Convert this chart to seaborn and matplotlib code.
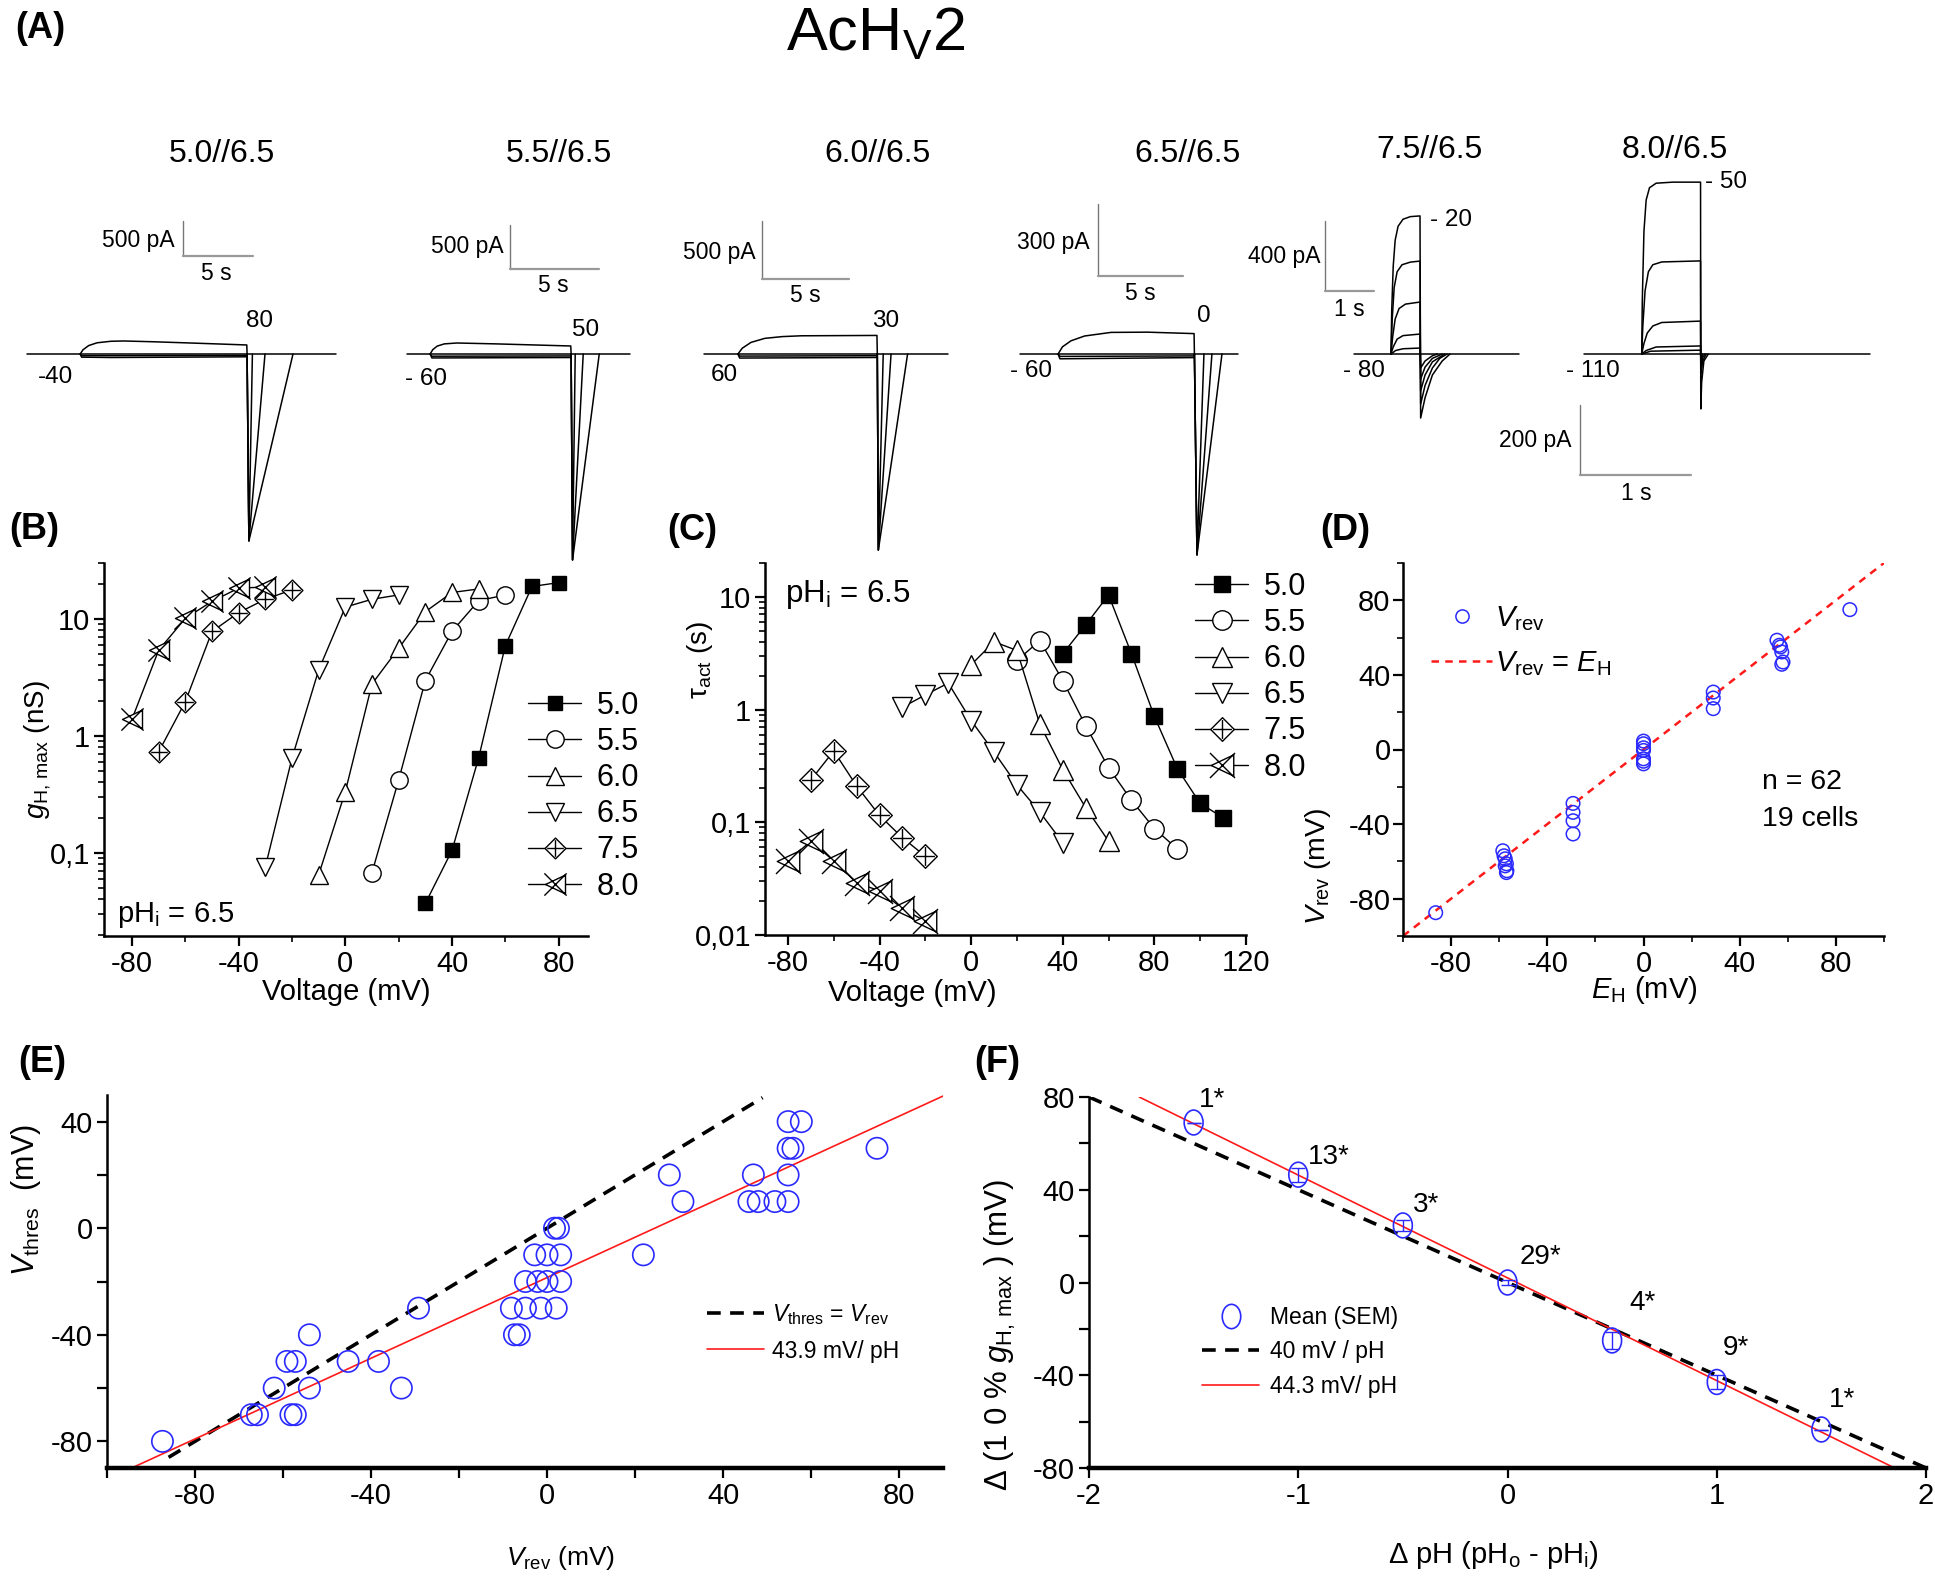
import numpy as np
import pandas as pd
import matplotlib
matplotlib.use("Agg")
import matplotlib.pyplot as plt
import seaborn as sns
from matplotlib.path import Path
from matplotlib.lines import Line2D
from matplotlib.ticker import (FixedLocator, FixedFormatter, MultipleLocator,
                               NullFormatter, LogLocator)

# ====================== DATA ======================
# ---- Panel A: current traces (time in s, current in pA) ----
A_titles = ["5.0//6.5", "5.5//6.5", "6.0//6.5", "6.5//6.5", "7.5//6.5", "8.0//6.5"]
A_hold = ["-40", "- 60", "60", "- 60", "- 80", "- 110"]
A_step = ["80", "50", "30", "0", "- 20", "- 50"]
A_bar_time = [5, 5, 5, 5, 1, 1]
A_bar_curr = [500, 500, 500, 300, 400, 200]
A_bar_time_lbl = ["5 s", "5 s", "5 s", "5 s", "1 s", "1 s"]
A_bar_curr_lbl = ["500 pA", "500 pA", "500 pA", "300 pA", "400 pA", "200 pA"]

A1_t = [[0, 22.1],
        [3.8, 4.0, 4.4, 5.0, 6.0, 6.9, 9.0, 12.0, 15.7, 15.72],
        [3.8, 3.9, 6.0, 15.7, 15.72],
        [3.8, 3.9, 15.7, 15.72],
        [15.72, 15.85, 16.1],
        [15.72, 15.85, 17.0],
        [15.72, 15.85, 19.0]]
A1_I = [[0, 0],
        [0, 60, 120, 160, 182, 186, 175, 155, 129, 0],
        [0, -45, -50, -40, 0],
        [0, -25, -20, 0],
        [0, -2670, 0],
        [0, -2670, 0],
        [0, -2670, 0]]

A2_t = [[0, 12.5],
        [1.3, 1.45, 1.7, 2.1, 2.8, 5.0, 9.2, 9.22],
        [1.3, 1.4, 9.2, 9.22],
        [1.3, 1.4, 9.2, 9.22],
        [9.22, 9.3, 9.45],
        [9.22, 9.3, 9.9],
        [9.22, 9.3, 10.8]]
A2_I = [[0, 0],
        [0, 50, 90, 115, 125, 115, 91, 0],
        [0, -45, -40, 0],
        [0, -25, -22, 0],
        [0, -2340, 0],
        [0, -2340, 0],
        [0, -2340, 0]]

A3_t = [[0, 14.0],
        [1.95, 2.2, 2.7, 3.5, 4.5, 5.6, 9.94, 9.96],
        [1.95, 2.05, 9.94, 9.96],
        [1.95, 2.05, 9.94, 9.96],
        [9.96, 10.02, 10.3],
        [9.96, 10.02, 10.75],
        [9.96, 10.02, 11.7]]
A3_I = [[0, 0],
        [0, 50, 100, 135, 150, 157, 160, 0],
        [0, -35, -30, 0],
        [0, -18, -15, 0],
        [0, -1690, 0],
        [0, -1690, 0],
        [0, -1690, 0]]

A4_t = [[0, 12.8],
        [2.24, 2.5, 3.0, 3.8, 5.35, 7.5, 10.24, 10.26],
        [2.24, 2.35, 10.24, 10.26],
        [2.24, 2.35, 10.24, 10.26],
        [10.26, 10.41, 10.82],
        [10.26, 10.41, 11.29],
        [10.26, 10.41, 11.88]]
A4_I = [[0, 0],
        [0, 30, 55, 75, 90, 91, 85, 0],
        [0, -20, -15, 0],
        [0, -10, -8, 0],
        [0, -837, 0],
        [0, -837, 0],
        [0, -837, 0]]

A5_t = [[0, 3.37],
        [0.755, 0.77, 0.80, 0.84, 0.90, 1.0, 1.15, 1.347, 1.36, 1.45, 1.6, 1.8, 1.96],
        [0.755, 0.78, 0.82, 0.88, 0.98, 1.15, 1.347, 1.36, 1.45, 1.6, 1.75, 1.9],
        [0.755, 0.79, 0.84, 0.92, 1.05, 1.347, 1.36, 1.45, 1.6, 1.85],
        [0.755, 0.80, 0.88, 1.0, 1.347, 1.36, 1.45, 1.6, 1.8],
        [0.755, 0.85, 1.0, 1.347, 1.36, 1.45, 1.6, 1.7]]
A5_I = [[0, 0],
        [0, 250, 500, 650, 730, 770, 785, 789, -366, -250, -120, -40, 0],
        [0, 200, 380, 470, 510, 525, 531, -286, -180, -80, -25, 0],
        [0, 100, 200, 260, 285, 297, -211, -120, -45, 0],
        [0, 40, 85, 105, 114, -143, -75, -25, 0],
        [0, 20, 30, 34, -80, -40, -10, 0]]

A6_t = [[0, 2.58],
        [0.52, 0.525, 0.54, 0.56, 0.59, 0.65, 0.8, 1.05, 1.052, 1.06, 1.08, 1.12],
        [0.52, 0.53, 0.55, 0.58, 0.62, 0.7, 1.05, 1.052, 1.07, 1.1],
        [0.52, 0.54, 0.57, 0.62, 0.7, 1.05, 1.052, 1.07, 1.09],
        [0.52, 0.56, 0.65, 1.05, 1.052, 1.07],
        [0.52, 0.6, 1.05, 1.052, 1.065]]
A6_I = [[0, 0],
        [0, 150, 350, 440, 475, 488, 491, 491, -157, -80, -20, 0],
        [0, 80, 180, 235, 255, 263, 266, -60, -20, 0],
        [0, 30, 60, 80, 90, 94, -35, -10, 0],
        [0, 10, 20, 23, -20, 0],
        [0, 8, 11, -10, 0]]

# ---- Panel B: g_H,max (nS) vs voltage (mV) ----
B_labels = ["5.0", "5.5", "6.0", "6.5", "7.5", "8.0"]
B_V_50 = [30, 40, 50, 60, 70, 80]
B_g_50 = [0.037, 0.105, 0.65, 5.9, 18.9, 20.4]
B_V_55 = [10, 20, 30, 40, 50, 60]
B_g_55 = [0.068, 0.42, 2.97, 7.8, 14.3, 16.0]
B_V_60 = [-10, 0, 10, 20, 30, 40, 50]
B_g_60 = [0.065, 0.334, 2.78, 5.6, 11.5, 16.8, 18.0]
B_V_65 = [-30, -20, -10, 0, 10, 20]
B_g_65 = [0.076, 0.645, 3.66, 12.6, 14.7, 16.0]
B_V_75 = [-70, -60, -50, -40, -30, -20]
B_g_75 = [0.73, 1.96, 7.8, 11.3, 14.7, 17.7]
B_V_80 = [-80, -70, -60, -50, -40, -30]
B_g_80 = [1.39, 5.4, 10.1, 14.1, 18.3, 18.7]

# ---- Panel C: tau_act (s) vs voltage (mV) ----
C_V_50 = [40, 50, 60, 70, 80, 90, 100, 110]
C_t_50 = [3.13, 5.65, 10.4, 3.13, 0.87, 0.30, 0.147, 0.110]
C_V_55 = [20, 30, 40, 50, 60, 70, 80, 90]
C_t_55 = [2.73, 4.1, 1.81, 0.72, 0.305, 0.157, 0.088, 0.058]
C_V_60 = [0, 10, 20, 30, 40, 50, 60]
C_t_60 = [2.5, 4.0, 3.35, 0.74, 0.294, 0.135, 0.068]
C_V_65 = [-30, -20, -10, 0, 10, 20, 30, 40]
C_t_65 = [1.05, 1.35, 1.72, 0.80, 0.42, 0.215, 0.123, 0.066]
C_V_75 = [-70, -60, -50, -40, -30, -20]
C_t_75 = [0.237, 0.43, 0.21, 0.115, 0.073, 0.050]
C_V_80 = [-80, -70, -60, -50, -40, -30, -20]
C_t_80 = [0.0455, 0.068, 0.0455, 0.029, 0.0247, 0.0172, 0.0132]

# ---- Panel D: V_rev vs E_H (mV) ----
D_EH = [-86.4, -58.5, -58.0, -57.5, -57.0, -57.5, -56.8, -57.0,
        -29.3, -29.3, -29.3, -29.3,
        0, 0, 0, 0, 0, 0, 0,
        29, 29, 29,
        55.5, 56.5, 57.0, 57.5, 58.0, 57.5,
        85.8]
D_Vrev = [-87.5, -54.3, -57.0, -58.6, -61.3, -62.4, -65.0, -66.0,
          -28.9, -33.7, -38.2, -45.3,
          4.5, 3.1, 0.9, -0.5, -5.0, -6.3, -7.7,
          30.8, 27.6, 21.9,
          58.6, 55.9, 55.0, 52.3, 46.9, 45.7,
          75.0]
D_line = [-100, 100]

# ---- Panel E: V_thres vs V_rev (mV) ----
E_Vrev = [-87.4, -67.2, -65.8, -58.2, -57.2, -62.0, -54.0, -59.1, -57.2,
          -54.0, -45.2, -38.3, -33.1, -29.2, -7.4, -6.3,
          -8.1, -4.9, -1.4, 2.1, -4.9, -2.1, 0.0, 3.1,
          -2.8, 0.0, 3.1, 1.7, 2.6, 21.9, 27.8, 30.9,
          45.9, 48.0, 51.8, 54.8, 46.9, 54.8, 54.8, 55.9, 54.8, 57.8, 75.0]
E_Vthres = [-80, -70, -70, -70, -70, -60, -60, -50, -50,
            -40, -50, -50, -60, -30, -40, -40,
            -30, -30, -30, -30, -20, -20, -20, -20,
            -10, -10, -10, 0, 0, -10, 20, 10,
            10, 10, 10, 10, 20, 20, 30, 30, 40, 40, 30]
E_id_x = [-86, 49]
E_id_y = [-86, 49]
E_fit_x = [-94, 90]
E_fit_y = [-89.7, 49.6]

# ---- Panel F: shift of 10% g_H,max vs delta pH ----
F_dpH = [-1.5, -1.0, -0.5, 0.0, 0.5, 1.0, 1.5]
F_mean = [69.0, 46.5, 24.6, 0.0, -25.0, -42.9, -63.4]
F_sem = [0.0, 3.0, 2.5, 1.0, 3.5, 3.0, 0.0]
F_n = ["1*", "13*", "3*", "29*", "4*", "9*", "1*"]
F_ref_x = [-2, 2]
F_ref_y = [80, -80]
F_fit_x = [-1.76, 1.85]
F_fit_y = [80, -80]

# ====================== STYLE ======================
sns.set_theme(style="ticks")
plt.rcParams['font.family'] = ['Liberation Sans', 'DejaVu Sans']
plt.rcParams['mathtext.fontset'] = 'custom'
plt.rcParams['mathtext.rm'] = 'Liberation Sans'
plt.rcParams['mathtext.it'] = 'Liberation Sans:italic'
plt.rcParams['mathtext.bf'] = 'Liberation Sans:bold'
plt.rcParams['axes.unicode_minus'] = False
for k in ['text.color', 'axes.labelcolor', 'xtick.color', 'ytick.color', 'axes.edgecolor']:
    plt.rcParams[k] = 'black'

W, H = 1935, 1582
fig = plt.figure(figsize=(W / 100, H / 100), dpi=100)
fig.patch.set_facecolor('white')

TICK_FS = 21
BLUE = '#2a2aff'
RED = '#ff1a1a'


def px_axes(l, t, r, b):
    ax = fig.add_axes([l / W, 1 - b / H, (r - l) / W, (b - t) / H])
    ax._pxbox = (l, t, r, b)
    return ax


def ftext(x, y, s, **kw):
    return fig.text(x / W, 1 - y / H, s, **kw)


def style_axes(ax, bottom_lw=1.8):
    sns.despine(ax=ax)
    ax.spines['left'].set_linewidth(1.8)
    ax.spines['bottom'].set_linewidth(bottom_lw)
    ax.tick_params(which='major', direction='out', length=7, width=1.6,
                   labelsize=TICK_FS, pad=3)
    ax.tick_params(which='minor', direction='out', length=4, width=1.2)
    ax.set_facecolor('none')


def place_label(ax, axis, text, px, py, fs, **kw):
    l, t, r, b = ax._pxbox
    xa = (px - l) / (r - l)
    ya = (b - py) / (b - t)
    if axis == 'x':
        ax.set_xlabel(text, fontsize=fs, **kw)
        ax.xaxis.set_label_coords(xa, ya)
        ax.xaxis.label.set_va('center')
    else:
        ax.set_ylabel(text, fontsize=fs, **kw)
        ax.yaxis.set_label_coords(xa, ya)
        ax.yaxis.label.set_va('center')
        ax.yaxis.label.set_ha('center')


def legend_px(ax, handles, labels, left, top, **kw):
    return ax.legend(handles, labels, loc='upper left',
                     bbox_to_anchor=(left / W, 1 - top / H),
                     bbox_transform=fig.transFigure, frameon=False,
                     borderpad=0, borderaxespad=0, **kw)


# custom markers
diamond_plus = Path([(0, 1), (1, 0), (0, -1), (-1, 0), (0, 1),
                     (0, 0.8), (0, -0.8), (-0.8, 0), (0.8, 0)],
                    [Path.MOVETO, Path.LINETO, Path.LINETO, Path.LINETO, Path.CLOSEPOLY,
                     Path.MOVETO, Path.LINETO, Path.MOVETO, Path.LINETO])
x_tri = Path([(-0.9, 0), (0.9, 0.85), (0.9, -0.85), (-0.9, 0),
              (-1, -1), (1, 1), (-1, 1), (1, -1)],
             [Path.MOVETO, Path.LINETO, Path.LINETO, Path.CLOSEPOLY,
              Path.MOVETO, Path.LINETO, Path.MOVETO, Path.LINETO])
_circ = Path.unit_circle()
tall_ellipse = Path(_circ.vertices * np.array([0.76, 1.0]), _circ.codes)

# ====================== PANEL A ======================
A_layout = [(27, 354, 14.0, 0.070), (407, 354, 17.8, 0.088), (704, 354, 17.4, 0.116),
            (1020, 354, 17.0, 0.24), (1354, 354, 49.0, 0.175), (1584, 354, 111.0, 0.35)]
A_t_all = [A1_t, A2_t, A3_t, A4_t, A5_t, A6_t]
A_I_all = [A1_I, A2_I, A3_I, A4_I, A5_I, A6_I]
A_bar_px = [(183, 256), (510, 269), (762, 279), (1098, 276), (1325, 291), (1580, 475)]
A_title_px = [(222, 162), (559, 162), (877, 162), (1187, 162), (1429, 158), (1675, 158)]
A_curr_lbl_px = [(138, 241), (467, 246), (719, 252), (1053, 243), (1284, 257), (1535, 441)]
A_time_lbl_px = [(216, 274), (553, 286), (805, 296), (1140, 294), (1349, 309), (1636, 493)]
A_hold_px = [(55, 377), (426, 379), (724, 375), (1031, 371), (1364, 371), (1593, 371)]
A_step_px = [(259, 321), (586, 330), (886, 321), (1204, 316), (1451, 220), (1726, 182)]

for k, (x0, y0, pps, ppa) in enumerate(A_layout):
    l, r, t, b = x0 - 80, x0 + 330, 120, 600
    ax = px_axes(l, t, r, b)
    ax.set_facecolor('none')
    for tt, ii in zip(A_t_all[k], A_I_all[k]):
        sns.lineplot(x=tt, y=ii, ax=ax, color='black', lw=1.1, sort=False,
                     estimator=None)
    bt = (A_bar_px[k][0] - x0) / pps
    bi = (y0 - A_bar_px[k][1]) / ppa
    sns.lineplot(x=[bt, bt], y=[bi, bi + A_bar_curr[k]], ax=ax, color='#777777',
                 lw=1.0, sort=False, estimator=None)
    sns.lineplot(x=[bt, bt + A_bar_time[k]], y=[bi, bi], ax=ax, color='#999999',
                 lw=1.6, sort=False, estimator=None)
    ax.set_xlim((l - x0) / pps, (r - x0) / pps)
    ax.set_ylim((y0 - b) / ppa, (y0 - t) / ppa)
    ax.axis('off')
    ftext(*A_title_px[k], A_titles[k], fontsize=23, ha='center', va='baseline')
    ftext(*A_curr_lbl_px[k], A_bar_curr_lbl[k], fontsize=16.5, ha='center', va='center')
    ftext(*A_time_lbl_px[k], A_bar_time_lbl[k], fontsize=16.5, ha='center', va='center')
    ftext(*A_hold_px[k], A_hold[k], fontsize=17.5, ha='center', va='center')
    ftext(*A_step_px[k], A_step[k], fontsize=17.5, ha='center', va='center')

ftext(876, 50, r"AcH$_\mathregular{V}$2", fontsize=44, ha='center', va='baseline')

# panel letters
for lbl, (x, y) in zip(["(A)", "(B)", "(C)", "(D)", "(E)", "(F)"],
                       [(40, 29), (34, 530), (692, 531), (1345, 531), (42, 1063), (997, 1063)]):
    ftext(x, y, lbl, fontsize=26, fontweight='bold', ha='center', va='center')

# ====================== PANEL B ======================
axB = px_axes(104, 563, 588, 936)
B_series = [(B_V_50, B_g_50), (B_V_55, B_g_55), (B_V_60, B_g_60),
            (B_V_65, B_g_65), (B_V_75, B_g_75), (B_V_80, B_g_80)]
marker_styles = [dict(marker='s', mfc='black'), dict(marker='o', mfc='white'),
                 dict(marker='^', mfc='white'), dict(marker='v', mfc='white'),
                 dict(marker=diamond_plus, mfc='white'), dict(marker=x_tri, mfc='white')]
B_ms = [10.5, 12.5, 13.5, 13.5, 15, 16]
for (v, g), st, ms in zip(B_series, marker_styles, B_ms):
    sns.lineplot(x=v, y=g, ax=axB, color='black', lw=1.0, mec='black', mew=1.0,
                 ms=ms, sort=False, estimator=None, **st)
axB.set_yscale('log')
axB.set_xlim(-90.5, 91)
axB.set_ylim(0.0195, 30)
axB.yaxis.set_major_locator(FixedLocator([0.1, 1, 10]))
axB.yaxis.set_major_formatter(FixedFormatter(['0,1', '1', '10']))
axB.yaxis.set_minor_locator(LogLocator(base=10, subs=np.arange(2, 10)))
axB.yaxis.set_minor_formatter(NullFormatter())
axB.xaxis.set_major_locator(FixedLocator([-80, -40, 0, 40, 80]))
axB.xaxis.set_minor_locator(MultipleLocator(20))
style_axes(axB)
place_label(axB, 'x', 'Voltage (mV)', 346, 992, 21)
place_label(axB, 'y', r"$g_\mathregular{H,\,max}$ (nS)", 38, 750, 20)
ftext(117, 922, r"pH$_\mathregular{i}$ = 6.5", fontsize=21, ha='left', va='baseline')
hB = [Line2D([], [], color='black', lw=1.0, mec='black', mew=1.0, ms=ms, **st)
      for st, ms in zip(marker_styles, B_ms)]
legend_px(axB, hB, B_labels, 528, 691, fontsize=22, handlelength=1.75,
          handletextpad=0.5, labelspacing=0.2, numpoints=1)

# ====================== PANEL C ======================
axC = px_axes(765, 563, 1246, 935)
C_series = [(C_V_50, C_t_50), (C_V_55, C_t_55), (C_V_60, C_t_60),
            (C_V_65, C_t_65), (C_V_75, C_t_75), (C_V_80, C_t_80)]
C_ms = [12, 14, 15, 15, 17, 18]
for (v, tau), st, ms in zip(C_series, marker_styles, C_ms):
    sns.lineplot(x=v, y=tau, ax=axC, color='black', lw=1.0, mec='black', mew=1.0,
                 ms=ms, sort=False, estimator=None, **st)
axC.set_yscale('log')
axC.set_xlim(-90, 120)
axC.set_ylim(0.01, 20)
axC.yaxis.set_major_locator(FixedLocator([0.01, 0.1, 1, 10]))
axC.yaxis.set_major_formatter(FixedFormatter(['0,01', '0,1', '1', '10']))
axC.yaxis.set_minor_locator(LogLocator(base=10, subs=np.arange(2, 10)))
axC.yaxis.set_minor_formatter(NullFormatter())
axC.xaxis.set_major_locator(FixedLocator([-80, -40, 0, 40, 80, 120]))
axC.xaxis.set_minor_locator(MultipleLocator(20))
style_axes(axC)
place_label(axC, 'x', 'Voltage (mV)', 912, 993, 21)
place_label(axC, 'y', "τ$_\\mathregular{act}$ (s)", 700, 660, 20)
ftext(785, 602, r"pH$_\mathregular{i}$ = 6.5", fontsize=22.5, ha='left', va='baseline')
hC = [Line2D([], [], color='black', lw=1.0, mec='black', mew=1.0, ms=ms, **st)
      for st, ms in zip(marker_styles, C_ms)]
legend_px(axC, hC, B_labels, 1195, 572, fontsize=22, handlelength=1.75,
          handletextpad=0.5, labelspacing=0.2, numpoints=1)

# ====================== PANEL D ======================
axD = px_axes(1403, 563, 1884, 936)
sns.lineplot(x=D_line, y=D_line, ax=axD, color=RED, lw=1.8, sort=False,
             estimator=None)
axD.lines[-1].set_dashes((3, 2.5))
sns.scatterplot(x=D_EH, y=D_Vrev, ax=axD, marker='o', s=95, facecolors='none',
                edgecolor=BLUE, linewidth=1.1, zorder=3)
axD.set_xlim(-100, 100)
axD.set_ylim(-100, 100)
axD.xaxis.set_major_locator(FixedLocator([-80, -40, 0, 40, 80]))
axD.yaxis.set_major_locator(FixedLocator([-80, -40, 0, 40, 80]))
axD.xaxis.set_minor_locator(MultipleLocator(20))
axD.yaxis.set_minor_locator(MultipleLocator(20))
style_axes(axD)
axD.tick_params(axis='y', pad=2)
place_label(axD, 'x', r"$E_\mathregular{H}$ (mV)", 1644, 990, 21)
place_label(axD, 'y', r"$V_\mathregular{rev}$ (mV)", 1318, 866, 20.5)
hD = [Line2D([], [], ls='none', marker='o', ms=9.5, mfc='none', mec=BLUE, mew=1.1),
      Line2D([], [], color=RED, lw=1.8, dashes=(3, 2.5))]
legend_px(axD, hD, [r"$V_\mathregular{rev}$", r"$V_\mathregular{rev}$ = $E_\mathregular{H}$"],
          1431, 604, fontsize=21, handlelength=2.1, handletextpad=0.1,
          labelspacing=0.55, numpoints=1)
ftext(1762, 782, "n = 62", fontsize=20.5, ha='left', va='center')
ftext(1762, 819, "19 cells", fontsize=20.5, ha='left', va='center')

# ====================== PANEL E ======================
axE = px_axes(107, 1095, 943, 1468)
sns.lineplot(x=E_id_x, y=E_id_y, ax=axE, color='black', lw=2.6, sort=False,
             estimator=None)
axE.lines[-1].set_dashes((3.8, 2.6))
sns.lineplot(x=E_fit_x, y=E_fit_y, ax=axE, color=RED, lw=1.2, sort=False,
             estimator=None)
sns.scatterplot(x=E_Vrev, y=E_Vthres, ax=axE, marker='o', s=235, facecolors='none',
                edgecolor=BLUE, linewidth=1.2, zorder=3)
axE.set_xlim(-100, 90)
axE.set_ylim(-90, 50)
axE.xaxis.set_major_locator(FixedLocator([-80, -40, 0, 40, 80]))
axE.yaxis.set_major_locator(FixedLocator([-80, -40, 0, 40]))
axE.xaxis.set_minor_locator(MultipleLocator(20))
axE.yaxis.set_minor_locator(MultipleLocator(20))
style_axes(axE, bottom_lw=3.2)
axE.tick_params(which='minor', length=7, width=1.6)
place_label(axE, 'x', r"$V_\mathregular{rev}$ (mV)", 560, 1558, 19)
place_label(axE, 'y', r"$V_\mathregular{thres}$  (mV)", 26, 1200, 22)
hE = [Line2D([], [], color='black', lw=2.6, dashes=(3.8, 2.6)),
      Line2D([], [], color=RED, lw=1.2)]
legend_px(axE, hE, [r"$V_\mathregular{thres}$ = $V_\mathregular{rev}$", "43.9 mV/ pH"],
          707, 1302, fontsize=16.5, handlelength=2.5, handletextpad=0.35,
          labelspacing=0.55)

# ====================== PANEL F ======================
axF = px_axes(1089, 1097, 1926, 1468)
sns.lineplot(x=F_ref_x, y=F_ref_y, ax=axF, color='black', lw=2.6, sort=False,
             estimator=None)
axF.lines[-1].set_dashes((3.8, 2.6))
sns.lineplot(x=F_fit_x, y=F_fit_y, ax=axF, color=RED, lw=1.2, sort=False,
             estimator=None)
axF.errorbar(F_dpH, F_mean, yerr=F_sem, fmt='none', ecolor=BLUE, elinewidth=1.0,
             capsize=5, capthick=1.0, zorder=3)
sns.scatterplot(x=F_dpH, y=F_mean, ax=axF, marker=tall_ellipse, s=320,
                facecolors='none', edgecolor=BLUE, linewidth=1.2, zorder=4)
F_lbl_off = [(13.5, 16), (22, 13), (17, 15), (24, 18), (22, 27), (14, 24.5), (15, 21.6)]
for x, y, s, off in zip(F_dpH, F_mean, F_n, F_lbl_off):
    axF.annotate(s, (x, y), xytext=off, textcoords='offset points', fontsize=20,
                 ha='center', va='center')
axF.set_xlim(-2, 2)
axF.set_ylim(-80, 80)
axF.xaxis.set_major_locator(FixedLocator([-2, -1, 0, 1, 2]))
axF.yaxis.set_major_locator(FixedLocator([-80, -40, 0, 40, 80]))
axF.yaxis.set_minor_locator(MultipleLocator(20))
style_axes(axF, bottom_lw=3.2)
axF.tick_params(which='minor', length=7, width=1.6)
place_label(axF, 'x', r"Δ pH (pH$_\mathregular{o}$ - pH$_\mathregular{i}$)", 1493, 1555, 21)
place_label(axF, 'y', r"Δ (1 0 % $g_\mathregular{H,\,max}$ ) (mV)", 1000, 1335, 22.5)
hF = [Line2D([], [], ls='none', marker=tall_ellipse, ms=17.5, mfc='none', mec=BLUE, mew=1.2),
      Line2D([], [], color='black', lw=2.6, dashes=(3.8, 2.6)),
      Line2D([], [], color=RED, lw=1.2)]
legend_px(axF, hF, ["Mean (SEM)", "40 mV / pH", "44.3 mV/ pH"],
          1202, 1306, fontsize=16.5, handlelength=2.5, handletextpad=0.45,
          labelspacing=0.5, numpoints=1)

fig.savefig("out.png", dpi=100, facecolor='white')
